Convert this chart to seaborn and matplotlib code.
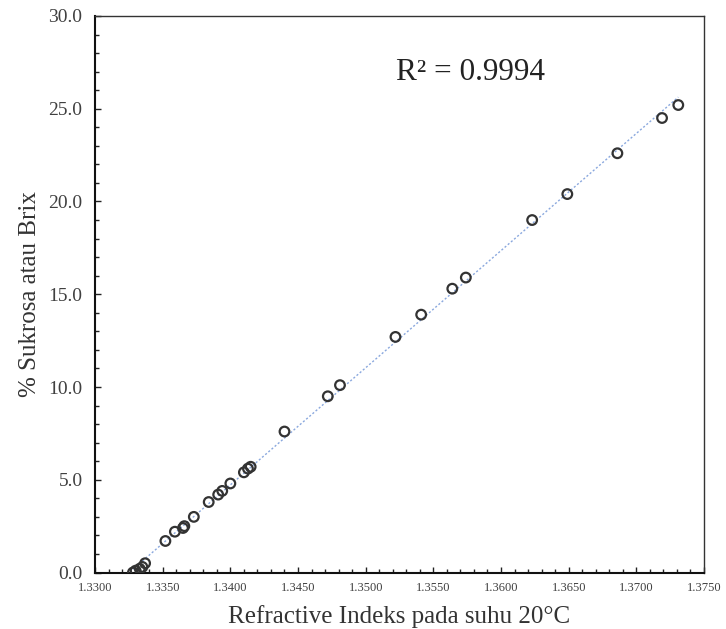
import matplotlib
matplotlib.use("Agg")
import matplotlib.pyplot as plt
from matplotlib.ticker import MultipleLocator, FormatStrFormatter
import numpy as np
import pandas as pd
import seaborn as sns

refractive_index = [1.3328, 1.3330, 1.3333, 1.3335, 1.3337, 1.3352, 1.3359, 1.3365,
                    1.3366, 1.3373, 1.3384, 1.3391, 1.3394, 1.3400, 1.3410, 1.3413,
                    1.3415, 1.3440, 1.3472, 1.3481, 1.3522, 1.3541, 1.3564, 1.3574,
                    1.3623, 1.3649, 1.3686, 1.3719, 1.3731]
brix = [0.0, 0.1, 0.2, 0.3, 0.5, 1.7, 2.2, 2.4,
        2.5, 3.0, 3.8, 4.2, 4.4, 4.8, 5.4, 5.6,
        5.7, 7.6, 9.5, 10.1, 12.7, 13.9, 15.3, 15.9,
        19.0, 20.4, 22.6, 24.5, 25.2]
r2_label = "R² = 0.9994"
x_label = "Refractive Indeks pada suhu 20°C"
y_label = "% Sukrosa atau Brix"

df = pd.DataFrame({"ri": refractive_index, "brix": brix})

sns.set_style("white")
plt.rcParams["font.family"] = ["Liberation Serif", "DejaVu Serif"]

fig = plt.figure(figsize=(7.26, 6.29), dpi=100)
ax = fig.add_axes([0.1309, 0.0898, 0.8388, 0.8848])

sns.regplot(data=df, x="ri", y="brix", ax=ax, scatter=False, ci=None,
            line_kws=dict(color="#8AA8DE", lw=1.0, ls=(0, (1.5, 1.5))))
sns.scatterplot(data=df, x="ri", y="brix", ax=ax, marker="o", s=48,
                facecolor="none", edgecolor="#333333", linewidth=1.6, zorder=3)

ax.set_xlim(1.33, 1.375)
ax.set_ylim(0, 30)
ax.xaxis.set_major_locator(MultipleLocator(0.005))
ax.xaxis.set_minor_locator(MultipleLocator(0.001))
ax.yaxis.set_major_locator(MultipleLocator(5))
ax.yaxis.set_minor_locator(MultipleLocator(1))
ax.xaxis.set_major_formatter(FormatStrFormatter("%.4f"))
ax.yaxis.set_major_formatter(FormatStrFormatter("%.1f"))

ax.tick_params(axis="both", which="both", direction="in", color="#222222",
               bottom=True, left=True, top=False, right=False)
ax.tick_params(axis="x", which="major", length=4, width=1, labelsize=9, pad=7, labelcolor="#404040")
ax.tick_params(axis="x", which="minor", length=3, width=1)
ax.tick_params(axis="y", which="major", length=4, width=1, labelsize=14, pad=9, labelcolor="#404040")
ax.tick_params(axis="y", which="minor", length=3, width=1)

for side in ["left", "bottom"]:
    ax.spines[side].set_color("#111111")
    ax.spines[side].set_linewidth(1.5)
for side in ["top", "right"]:
    ax.spines[side].set_color("#333333")
    ax.spines[side].set_linewidth(1.0)

ax.set_xlabel(x_label, fontsize=18, color="#333333", labelpad=8)
ax.set_ylabel(y_label, fontsize=18, color="#333333", labelpad=5)

ax.text(0.495, 0.8976, r2_label, transform=ax.transAxes, fontsize=22.5,
        color="#222222", ha="left", va="center")

fig.savefig("out.png", dpi=100)
